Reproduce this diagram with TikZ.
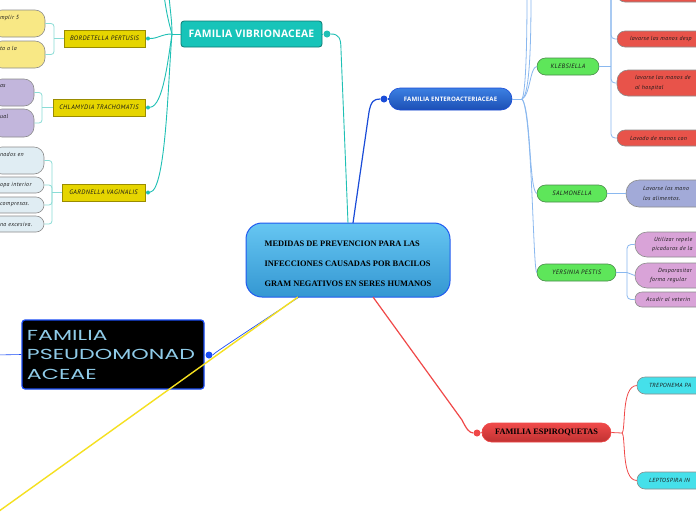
\documentclass[tikz,border=0pt]{standalone}
\usepackage{fontspec}
\setmainfont{Liberation Serif}
\newfontfamily\hand[LetterSpace=6]{PT Sans}
\newfontfamily\opensans[LetterSpace=2]{Open Sans}
\newfontfamily\widefont[FakeStretch=1.53]{Poppins}
\usetikzlibrary{calc}
\definecolor{tealc}{HTML}{1FC0B5}
\definecolor{tealbr}{HTML}{8ADCD6}
\definecolor{vibfill}{HTML}{17C4B9}
\definecolor{vibdraw}{HTML}{0D7A73}
\definecolor{ybox}{HTML}{E6D500}
\definecolor{ydraw}{HTML}{9A8C00}
\definecolor{yleaf}{HTML}{F8E885}
\definecolor{pleaf}{HTML}{C2B6DC}
\definecolor{gleaf}{HTML}{E0EDF3}
\definecolor{leafbr}{HTML}{8C8C8C}
\definecolor{txt}{HTML}{1A1A1A}
\definecolor{cenTop}{HTML}{66C6F2}
\definecolor{cenBot}{HTML}{3497D2}
\definecolor{cenDraw}{HTML}{1F5AF0}
\definecolor{pblue}{HTML}{1A4CF5}
\definecolor{ptext}{HTML}{8FCBE8}
\definecolor{yline}{HTML}{F5E020}
\definecolor{eTop}{HTML}{3C80E2}
\definecolor{eBot}{HTML}{1C4FB5}
\definecolor{eline}{HTML}{1A4CD8}
\definecolor{lbline}{HTML}{8AB8EF}
\definecolor{gbox}{HTML}{5EE65A}
\definecolor{gdraw}{HTML}{4A8A4A}
\definecolor{rleaf}{HTML}{E8534A}
\definecolor{sleaf}{HTML}{A2AAD8}
\definecolor{mleaf}{HTML}{D9A3D8}
\definecolor{rline}{HTML}{F04848}
\definecolor{sTop}{HTML}{F04A4A}
\definecolor{sBot}{HTML}{C03232}
\definecolor{cleaf}{HTML}{45E0EA}
\tikzset{
  tealline/.style={draw=tealc, line width=0.9pt},
  tealbrk/.style={draw=tealbr, line width=0.8pt},
  lbl/.style={draw=lbline, line width=0.8pt},
  rl/.style={draw=rline, line width=1pt},
  ybx/.style={draw=ydraw, fill=ybox, line width=0.6pt, inner sep=0pt, font=\hand\itshape\fontsize{6.4}{7}\selectfont, text=txt},
  leafbox/.style={draw=leafbr, line width=0.6pt, inner ysep=0pt, font=\hand\itshape\fontsize{5.9}{9.5}\selectfont, text=txt, align=left},
  pill/.style={draw=gdraw, fill=gbox, line width=0.6pt, inner sep=0pt, rounded corners=8.5pt, font=\hand\itshape\fontsize{6.3}{7}\selectfont, text=txt},
  dotn/.style={circle, inner sep=0pt},
}
\begin{document}
\begin{tikzpicture}[x=1pt,y=-1pt]
\useasboundingbox (0,0) rectangle (696,520);
\fill[white] (0,0) rectangle (696,520);
\clip (0,0) rectangle (696,520);

% ---------- central ----------
\node[draw=cenDraw, line width=1pt, top color=cenTop, bottom color=cenBot, rounded corners=16pt,
  minimum width=204pt, minimum height=74pt, inner sep=0pt, align=left,
  font=\bfseries\fontsize{8.4}{20}\selectfont, text=black] (cent) at (348,260)
  {\rule{0pt}{13.5pt}MEDIDAS DE PREVENCION PARA LAS\\INFECCIONES CAUSADAS POR BACILOS\\GRAM NEGATIVOS EN SERES HUMANOS};
\coordinate (ct1) at (348,223);
\coordinate (ct2) at (353,223);
\coordinate (cb1) at (373,297);
\coordinate (cb2) at (298,297);
\coordinate (cb3) at (299,297);

% ---------- Vibrionaceae ----------
\node[draw=vibdraw, fill=vibfill, line width=0.8pt, rounded corners=3pt, minimum width=141pt, minimum height=26pt,
  inner sep=0pt, font=\opensans\bfseries\fontsize{10.4}{11}\selectfont, text=white] (vib) at (251.5,34) {FAMILIA VIBRIONACEAE};
\node[dotn, fill=tealc, minimum size=7pt] (vdot) at (327,34) {};
\draw[tealline] (vib.east) -- (vdot);
\draw[tealline] (vdot.east) .. controls (339,34) and (341,38) .. (341,50) -- (ct1);

\coordinate (vb) at (172,34);
\coordinate (vu1) at (164,-5);
\coordinate (vu2) at (169,-5);
\node[ybx, minimum width=81pt, minimum height=17pt] (bord) at (104.5,38.5) {BORDETELLA PERTUSIS};
\node[ybx, minimum width=92pt, minimum height=17pt] (chla) at (99,107.5) {CHLAMYDIA TRACHOMATIS};
\node[ybx, minimum width=83pt, minimum height=17pt] (gard) at (103.5,192.5) {GARDNELLA VAGINALIS};
\node[dotn, fill=tealc, minimum size=4pt] (bd) at (148,38.5) {};
\node[dotn, fill=tealc, minimum size=4pt] (cd) at (148,107.5) {};
\node[dotn, fill=tealc, minimum size=4pt] (gd) at (148,192.5) {};
\draw[tealline] (vib.west) -- (vb);
\draw[tealline] (vb) .. controls (162,34) and (158,38.5) .. (bd);
\draw[tealline] (vb) .. controls (168,60) and (163,106) .. (cd);
\draw[tealline] (vb) .. controls (168,80) and (166,190) .. (gd);
\draw[tealline] (vb) .. controls (168,20) and (166,10) .. (vu1);
\draw[tealline] (vb) .. controls (172,20) and (170,10) .. (vu2);

% Bordetella leaves (clipped at left)
\node[leafbox, fill=yleaf, rounded corners=10pt, inner xsep=8pt, text width=37pt, minimum height=27pt] (bl1) at (18.5,23.5) {mplir 5\\\strut};
\node[leafbox, fill=yleaf, rounded corners=10pt, inner xsep=8pt, text width=37pt, minimum height=27pt] (bl2) at (18.5,54.5) {ta a la\\\strut};
\coordinate (bk1) at (54,38.5);
\draw[tealbrk] (bord.west) -- (bk1);
\draw[tealbrk, rounded corners=3pt] (bl1.east) -| (bk1) |- (bl2.east);

% Chlamydia leaves
\node[leafbox, fill=pleaf, rounded corners=10pt, inner xsep=8pt, text width=26pt, minimum height=27pt] (cl1) at (13,92.5) {as\\\strut};
\node[leafbox, fill=pleaf, rounded corners=10pt, inner xsep=8pt, text width=26pt, minimum height=28pt] (cl2) at (13,123) {ual\\\strut};
\coordinate (bk2) at (42,107.5);
\draw[tealbrk] (chla.west) -- (bk2);
\draw[tealbrk, rounded corners=3pt] (cl1.east) -| (bk2) |- (cl2.east);

% Gardnella leaves
\node[leafbox, fill=gleaf, rounded corners=10pt, inner xsep=8pt, text width=36pt, minimum height=27pt] (gl1) at (18,160.5) {nados en\\\strut};
\node[leafbox, fill=gleaf, rounded corners=8pt, inner xsep=8pt, text width=36pt, minimum height=16pt] (gl2) at (18,185) {opa interior};
\node[leafbox, fill=gleaf, rounded corners=8pt, inner xsep=8pt, text width=36pt, minimum height=16pt] (gl3) at (18,205) {compresas.};
\node[leafbox, fill=gleaf, rounded corners=8pt, inner xsep=8pt, text width=36pt, minimum height=16pt] (gl4) at (18,224) {na excesiva.};
\coordinate (bk3) at (52,192.5);
\draw[tealbrk] (gard.west) -- (bk3);
\draw[tealbrk, rounded corners=3pt] (gl1.east) -| (bk3) |- (gl4.east);
\draw[tealbrk, rounded corners=3pt] (gl2.east) -| (bk3);
\draw[tealbrk, rounded corners=3pt] (gl3.east) -| (bk3);

% ---------- Pseudomonadaceae ----------
\node[draw=pblue, fill=black, line width=1.2pt, rounded corners=3pt, minimum width=182pt, minimum height=69pt,
  inner xsep=5pt, text width=172pt, align=left, font=\widefont\fontsize{14.5}{19.5}\selectfont, text=ptext] (pseu) at (113,354.5)
  {FAMILIA\\PSEUDOMONAD\\ACEAE};
\node[dotn, fill=pblue, minimum size=7pt] (pdot) at (209,355) {};
\coordinate (pl) at (-5,355);
\coordinate (yend) at (-5,514);
\draw[pblue, line width=0.6pt] (pl) -- (pseu.west);
\draw[pblue, line width=0.7pt] (pdot.east) .. controls (216,352) .. (cb3);
\draw[yline, line width=1.4pt] (cb2) -- (yend);

% ---------- Enteroacteriaceae ----------
\node[draw=eline, top color=eTop, bottom color=eBot, line width=0.6pt, rounded corners=11pt, minimum width=123pt, minimum height=22pt,
  inner sep=0pt, font=\opensans\bfseries\fontsize{6.1}{7}\selectfont, text=white] (ente) at (450.5,99) {FAMILIA ENTEROACTERIACEAE};
\node[dotn, fill=eline, minimum size=7pt] (edot) at (384,99) {};
\draw[eline, line width=1.2pt] (ente.west) -- (edot);
\draw[eline, line width=1.2pt] (ct2) -- (369,112) .. controls (371,101) and (374,99) .. (edot.west);

\coordinate (eb) at (522,99);
\coordinate (eu1) at (531,-5);
\coordinate (eu2) at (527,-5);
\node[pill, minimum width=62pt, minimum height=17pt] (kleb) at (568,66.5) {KLEBSIELLA};
\node[pill, minimum width=70pt, minimum height=17pt] (salm) at (572,193.5) {SALMONELLA};
\node[pill, minimum width=79pt, minimum height=17pt] (yers) at (576.5,272.5) {YERSINIA PESTIS};
\draw[lbl] (ente.east) -- (eb);
\draw[lbl] (eb) .. controls (530,95) and (531,40) .. (eu1);
\draw[lbl] (eb) .. controls (526,92) and (527,40) .. (eu2);
\draw[lbl] (eb) .. controls (530,96) and (530,67) .. (kleb.west);
\draw[lbl] (eb) .. controls (531,110) and (529,190) .. (salm.west);
\draw[lbl] (eb) .. controls (532,110) and (533,270) .. (yers.west);

% Klebsiella leaves
\node[leafbox, fill=rleaf, rounded corners=8pt, inner xsep=8pt, text width=127pt, minimum height=22pt] (r1) at (688.5,-9) {\strut};
\node[leafbox, fill=rleaf, rounded corners=8pt, inner xsep=8pt, text width=127pt, minimum height=16pt] (r2) at (688.5,39) {\hspace*{5pt}lavarse las manos desp};
\node[leafbox, fill=rleaf, rounded corners=11pt, inner xsep=8pt, text width=127pt, minimum height=26pt] (r3) at (688.5,83) {\hspace*{10pt}lavarse las manos de\\\hspace*{10pt}al hospital};
\node[leafbox, fill=rleaf, rounded corners=8pt, inner xsep=8pt, text width=127pt, minimum height=16pt] (r4) at (688.5,138) {\hspace*{5pt}Lavado de manos con};
\coordinate (kb) at (611,66.5);
\coordinate (ktop) at (611,-10);
\draw[lbl] (kleb.east) -- (kb);
\draw[lbl, rounded corners=4pt] (ktop) |- (r2.west);
\draw[lbl, rounded corners=4pt] (ktop) |- (r3.west);
\draw[lbl, rounded corners=4pt] (ktop) |- (r4.west);

% Salmonella leaf
\node[leafbox, fill=sleaf, rounded corners=13pt, inner xsep=8pt, text width=118pt, minimum height=27pt] (sl) at (693,193.5) {\hspace*{9pt}Lavarse las mano\\\hspace*{9pt}los alimentos.};
\draw[lbl] (salm.east) -- (sl.west);

% Yersinia leaves
\node[leafbox, fill=mleaf, rounded corners=12pt, inner xsep=8pt, text width=109pt, minimum height=25pt] (y1) at (697.5,244.5) {\hspace*{11pt}Utilizar repele\\\hspace*{9pt}picaduras de la};
\node[leafbox, fill=mleaf, rounded corners=12pt, inner xsep=8pt, text width=109pt, minimum height=25pt] (y2) at (697.5,275.5) {\hspace*{15pt}Desparasitar\\\hspace*{7pt}forma regular};
\node[leafbox, fill=mleaf, rounded corners=7pt, inner xsep=8pt, text width=109pt, minimum height=15pt] (y3) at (697.5,299.5) {\hspace*{3pt}Acudir al veterin};
\coordinate (yb) at (627,272.5);
\draw[lbl] (yers.east) -- (yb);
\draw[lbl, rounded corners=4pt] (y1.west) -| (yb) |- (y3.west);
\draw[lbl] (yb) -- (y2.west);

% ---------- Espiroquetas ----------
\node[draw=rline, top color=sTop, bottom color=sBot, line width=0.6pt, rounded corners=9.5pt, minimum width=129pt, minimum height=19pt,
  inner sep=0pt, font=\bfseries\fontsize{8.3}{9}\selectfont, text=black] (espi) at (546.5,432.5) {FAMILIA ESPIROQUETAS};
\node[dotn, fill=rline, minimum size=7pt] (sdot) at (477,433) {};
\draw[rl, line width=1.2pt] (espi.west) -- (sdot);
\draw[rl, line width=1.2pt] (cb1) -- (462,420) .. controls (466,428) and (469,433) .. (sdot.west);

\node[leafbox, fill=cleaf, rounded corners=8pt, inner xsep=8pt, text width=110pt, minimum height=17pt] (tre) at (700,385.5) {\hspace*{4pt}TREPONEMA PA};
\node[leafbox, fill=cleaf, rounded corners=8pt, inner xsep=8pt, text width=110pt, minimum height=17pt] (lep) at (700,480.5) {\hspace*{4pt}LEPTOSPIRA IN};
\coordinate (sb) at (622,433);
\draw[rl, line width=0.8pt] (espi.east) -- (sb);
\draw[rl, line width=0.8pt] (sb) .. controls (626,430) and (621,386) .. (tre.west);
\draw[rl, line width=0.8pt] (sb) .. controls (626,436) and (621,480) .. (lep.west);
\end{tikzpicture}
\end{document}
